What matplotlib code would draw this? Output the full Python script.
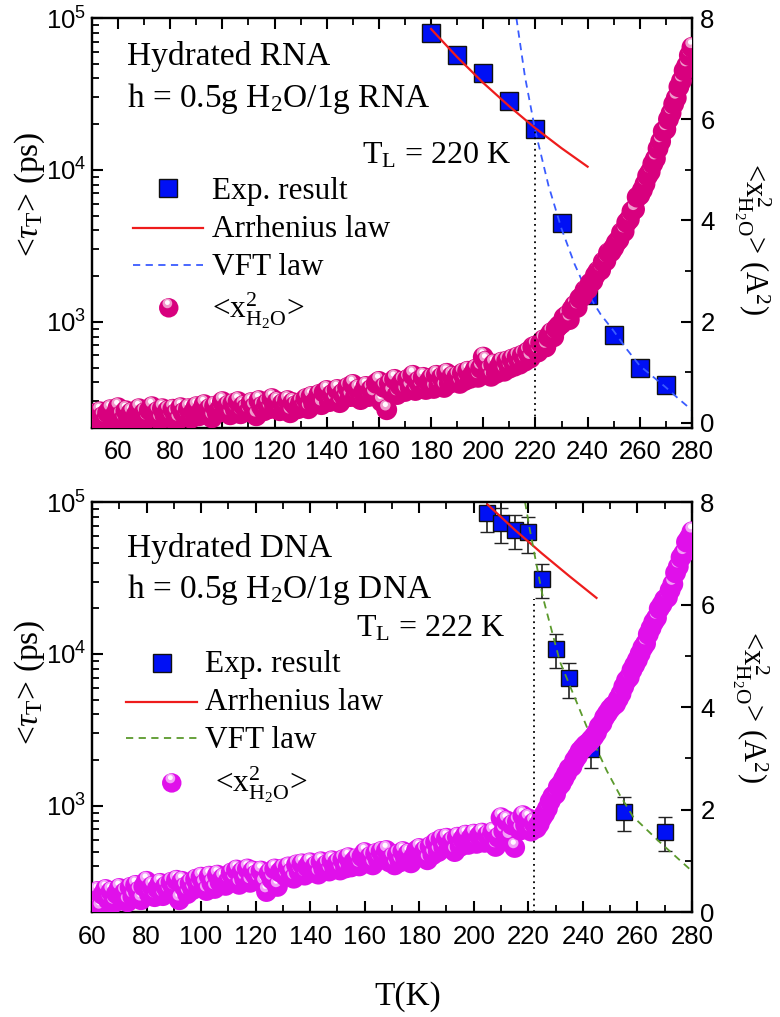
import numpy as np
import matplotlib
matplotlib.use("Agg")
import matplotlib.pyplot as plt
from matplotlib.ticker import MultipleLocator, LogLocator, FuncFormatter, NullFormatter
from matplotlib.colors import to_rgb

plt.rcParams['font.family'] = 'Liberation Serif'
plt.rcParams['mathtext.fontset'] = 'custom'
plt.rcParams['mathtext.rm'] = 'Liberation Serif'
plt.rcParams['mathtext.it'] = 'Liberation Serif:italic'
plt.rcParams['mathtext.sf'] = 'Liberation Sans'

# ---- hydrated RNA: relaxation times (left axis, ps) ----
rna_T = [180, 190, 200, 210, 220, 230, 240, 250, 260, 270]
rna_tau = [79800, 57300, 43700, 28300, 18500, 4440, 1500, 822, 500, 382]

rna_arr_T = [180, 190, 200, 210, 220, 230, 240]
rna_arr_tau = [84700, 55300, 37400, 26200, 18800, 13900, 10500]

rna_vft_T = [212.7, 216, 220, 225, 230, 235, 240, 245, 250, 255, 260, 265, 270, 275, 280]
rna_vft_tau = [100000, 41000, 17900, 7900, 4100, 2400, 1540, 1120, 870, 660, 514, 436, 370, 310, 262]

rna_TL = 220
rna_TL_top = 18000

# ---- hydrated RNA: water MSD (right axis, A^2), one point per K from 50 K ----
rna_T_x2 = np.arange(50, 281)
rna_x2 = [
    0.10, 0.18, 0.06, 0.22, 0.12, 0.04, 0.20, 0.26, 0.09, 0.17,
    0.30, 0.14, 0.06, 0.24, 0.10, 0.20, 0.03, 0.16, 0.28, 0.11,
    0.20, 0.08, 0.25, 0.32, 0.12, 0.22, 0.06, 0.28, 0.15, 0.24,
    0.10, 0.27, 0.18, 0.06, 0.30, 0.20, 0.13, 0.28, 0.09, 0.22,
    0.32, 0.14, 0.24, 0.36, 0.18, 0.28, 0.10, 0.33, 0.20, 0.27,
    0.42, 0.22, 0.34, 0.16, 0.38, 0.26, 0.42, 0.18, 0.34, 0.28,
    0.22, 0.40, 0.30, 0.14, 0.44, 0.32, 0.24, 0.38, 0.28, 0.48,
    0.32, 0.42, 0.24, 0.38, 0.30, 0.44, 0.20, 0.40, 0.34, 0.28,
    0.40, 0.32, 0.48, 0.28, 0.52, 0.38, 0.44, 0.56, 0.36, 0.60,
    0.64, 0.42, 0.56, 0.46, 0.66, 0.40, 0.58, 0.50, 0.70, 0.52,
    0.76, 0.52, 0.66, 0.46, 0.60, 0.72, 0.52, 0.66, 0.56, 0.78,
    0.82, 0.42, 0.70, 0.26, 0.78, 0.60, 0.86, 0.56, 0.74, 0.82,
    0.62, 0.86, 0.70, 0.94, 0.64, 0.82, 0.72, 0.90, 0.66, 0.80,
    0.88, 0.68, 0.94, 0.74, 0.90, 0.70, 0.98, 0.78, 0.92, 0.82,
    0.92, 0.78, 0.98, 0.84, 1.02, 0.88, 0.96, 1.06, 0.90, 1.08,
    1.30, 1.22, 1.04, 0.92, 1.16, 0.98, 1.10, 1.20, 1.02, 1.22,
    1.08, 1.26, 1.12, 1.30, 1.16, 1.34, 1.22, 1.40, 1.28, 1.50,
    1.52, 1.40, 1.58, 1.64, 1.50, 1.70, 1.78, 1.70, 1.86, 1.92,
    1.96, 2.08, 2.12, 2.04, 2.24, 2.32, 2.28, 2.46, 2.50, 2.62,
    2.64, 2.76, 2.80, 2.92, 3.00, 3.02, 3.18, 3.20, 3.36, 3.38,
    3.46, 3.56, 3.62, 3.76, 3.78, 3.96, 4.02, 4.18, 4.22, 4.46,
    4.50, 4.60, 4.72, 4.88, 4.96, 5.12, 5.22, 5.42, 5.56, 5.76,
    5.80, 6.00, 6.12, 6.30, 6.42, 6.64, 6.76, 6.96, 7.06, 7.26,
    7.42,
]

# ---- hydrated DNA: relaxation times with error bars ----
dna_T = [205, 210, 215, 220, 225, 230, 235, 243, 255, 270]
dna_tau = [84600, 72700, 65300, 63300, 31400, 10800, 6920, 2380, 912, 678]
dna_err = [21000, 19000, 16500, 17000, 8000, 2700, 1750, 600, 230, 170]

dna_arr_T = [205, 215, 225, 235, 245]
dna_arr_tau = [96600, 65800, 45900, 32600, 23400]

dna_vft_T = [218.8, 220.6, 223.2, 225.4, 231.6, 236.4, 242.6, 248.8, 253.6, 258.4, 268.3, 280]
dna_vft_tau = [100000, 65300, 37200, 23400, 8900, 5500, 2950, 1700, 1175, 850, 575, 372]

dna_TL = 222
dna_TL_top = 23000

# ---- hydrated DNA: water MSD, one point per K from 60 K ----
dna_T_x2 = np.arange(60, 281)
dna_x2 = [
    0.32, 0.14, 0.40, 0.08, 0.34, 0.44, 0.24, 0.40, 0.18, 0.36,
    0.46, 0.26, 0.38, 0.20, 0.48, 0.30, 0.52, 0.40, 0.24, 0.50,
    0.60, 0.36, 0.50, 0.30, 0.46, 0.56, 0.32, 0.50, 0.40, 0.58,
    0.46, 0.62, 0.24, 0.60, 0.48, 0.36, 0.56, 0.44, 0.64, 0.50,
    0.68, 0.54, 0.42, 0.70, 0.56, 0.46, 0.72, 0.58, 0.66, 0.52,
    0.60, 0.76, 0.64, 0.82, 0.54, 0.78, 0.64, 0.84, 0.58, 0.80,
    0.72, 0.62, 0.80, 0.56, 0.40, 0.76, 0.64, 0.84, 0.50, 0.78,
    0.84, 0.70, 0.88, 0.76, 0.66, 0.92, 0.78, 0.94, 0.72, 0.88,
    0.96, 0.78, 0.90, 0.74, 0.98, 0.84, 0.92, 0.80, 1.00, 0.86,
    0.96, 0.82, 1.02, 0.86, 1.06, 0.88, 0.98, 1.04, 0.90, 1.08,
    1.16, 0.96, 1.08, 0.92, 1.14, 1.02, 1.18, 1.06, 1.20, 0.98,
    1.06, 0.92, 1.12, 0.98, 1.18, 1.04, 1.14, 0.96, 1.08, 1.20,
    1.24, 1.08, 1.20, 1.02, 1.28, 1.12, 1.36, 1.18, 1.42, 1.26,
    1.44, 1.26, 1.38, 1.18, 1.46, 1.28, 1.42, 1.50, 1.32, 1.44,
    1.52, 1.34, 1.48, 1.54, 1.36, 1.50, 1.42, 1.56, 1.28, 1.46,
    1.84, 1.58, 1.78, 1.46, 1.70, 1.26, 1.76, 1.60, 1.88, 1.70,
    1.82, 1.58, 1.74, 1.64, 1.72, 1.84, 1.92, 2.02, 2.16, 2.26,
    2.30, 2.44, 2.50, 2.60, 2.70, 2.80, 2.84, 2.96, 3.04, 3.14,
    3.20, 3.26, 3.30, 3.36, 3.42, 3.50, 3.62, 3.68, 3.80, 3.88,
    3.96, 4.02, 4.06, 4.16, 4.26, 4.40, 4.52, 4.58, 4.72, 4.82,
    4.92, 5.04, 5.16, 5.24, 5.42, 5.54, 5.66, 5.74, 5.92, 6.00,
    6.10, 6.14, 6.28, 6.40, 6.62, 6.74, 6.92, 7.00, 7.22, 7.30,
    7.42,
]

SQ_BLUE = '#0010f5'
RED = '#ee1c1c'
VFT_BLUE = '#3a5cff'
VFT_GREEN = '#5b9a2c'
RNA_PINK = '#d8007e'
DNA_MAGENTA = '#e010ea'

TEXT_FS = 24
LEGEND_FS = 22.5
TICK_FS = 18.5
LABEL_FS = 24


def lighten(c, f):
    r, g, b = to_rgb(c)
    return (r + (1 - r) * f, g + (1 - g) * f, b + (1 - b) * f)


def draw_spheres(ax, xs, ys, color, diam=15.0, transform=None, zorder=3):
    # shaded balls: body, soft glow and a white glint, interleaved so that
    # every ball is painted completely before the next one covers it
    tr = ax.transData if transform is None else transform
    px = ax.figure.dpi / 72.0
    base = tr.transform(np.column_stack([xs, ys]))
    glow = base + np.array([-1.0, 3.2]) * px
    glint = base + np.array([-1.0, 3.8]) * px
    pts = np.stack([base, glow, glint], axis=1).reshape(-1, 2)
    pts = tr.inverted().transform(pts)
    n = len(xs)
    cols = [to_rgb(color), lighten(color, 0.6), (1.0, 0.98, 1.0)] * n
    sizes = [diam ** 2, (diam * 0.5) ** 2, (diam * 0.25) ** 2] * n
    ax.scatter(pts[:, 0], pts[:, 1], s=sizes, c=cols, linewidths=0,
               transform=tr, zorder=zorder)


def style_axes(ax, ax2, xlim, r_ylim):
    ax.set_yscale('log')
    ax.set_xlim(*xlim)
    ax.set_ylim(200, 1e5)
    ax2.set_ylim(*r_ylim)
    ax.xaxis.set_major_locator(MultipleLocator(20))
    ax.xaxis.set_minor_locator(MultipleLocator(10))
    ax.yaxis.set_major_locator(LogLocator(base=10, numticks=10))
    ax.yaxis.set_minor_locator(LogLocator(base=10, subs=np.arange(2, 10), numticks=10))
    ax.yaxis.set_major_formatter(FuncFormatter(lambda v, p: r'$\mathsf{10^{%d}}$' % round(np.log10(v))))
    ax.yaxis.set_minor_formatter(NullFormatter())
    ax2.yaxis.set_major_locator(MultipleLocator(2))
    ax2.yaxis.set_minor_locator(MultipleLocator(1))
    for a in (ax, ax2):
        for sp in a.spines.values():
            sp.set_linewidth(1.6)
    ax.tick_params(which='both', direction='in', top=True, right=False,
                   labelsize=TICK_FS, labelfontfamily='Liberation Sans')
    ax.tick_params(axis='x', pad=9)
    ax.tick_params(axis='y', pad=4)
    ax.tick_params(which='major', length=8, width=1.5)
    ax.tick_params(which='minor', length=5, width=1.3)
    ax2.tick_params(which='both', direction='in', labelsize=TICK_FS,
                    labelfontfamily='Liberation Sans', pad=6)
    ax2.tick_params(which='major', length=8, width=1.5)
    ax2.tick_params(which='minor', length=5, width=1.3)


def legend_rows(ax, sq, line_x, arr_y, vft_y, text_x, bases, sphere_text_x, vft_color):
    ax.plot([sq[0]], [sq[1]], 's', ms=12.5, mfc=SQ_BLUE, mec='#111111', mew=1.0,
            transform=ax.transAxes, clip_on=False)
    ax.plot(line_x, [arr_y, arr_y], color=RED, lw=1.6, transform=ax.transAxes)
    ax.plot(line_x, [vft_y, vft_y], color=vft_color, lw=1.3, dashes=(4, 3),
            transform=ax.transAxes)
    ax.text(text_x, bases[0], 'Exp. result', transform=ax.transAxes, fontsize=LEGEND_FS, va='baseline')
    ax.text(text_x, bases[1], 'Arrhenius law', transform=ax.transAxes, fontsize=LEGEND_FS, va='baseline')
    ax.text(text_x, bases[2], 'VFT law', transform=ax.transAxes, fontsize=LEGEND_FS, va='baseline')
    ax.text(sphere_text_x, bases[3], r'<x$^{2}_{\rm H_2O}$>', transform=ax.transAxes,
            fontsize=LEGEND_FS, va='baseline')


fig = plt.figure(figsize=(7.8, 10.17), dpi=100)
panel_left, panel_w, panel_h = 0.1179, 0.7692, 0.4031
ax_top = fig.add_axes([panel_left, 0.5792, panel_w, panel_h])
ax_bot = fig.add_axes([panel_left, 0.1032, panel_w, panel_h])
ax_top2 = ax_top.twinx()
ax_bot2 = ax_bot.twinx()

style_axes(ax_top, ax_top2, (50, 280), (-0.1, 8))
style_axes(ax_bot, ax_bot2, (60, 280), (0, 8))

# ---------------- RNA panel ----------------
ax_top.plot(rna_T, rna_tau, 's', ms=12.5, mfc=SQ_BLUE, mec='#111111', mew=1.0, zorder=3)
ax_top.plot(rna_arr_T, rna_arr_tau, color=RED, lw=1.6, zorder=4)
ax_top.plot(rna_vft_T, rna_vft_tau, color=VFT_BLUE, lw=1.3, dashes=(4, 3), zorder=4)
draw_spheres(ax_top2, rna_T_x2, rna_x2, RNA_PINK)
ax_top2.plot([rna_TL, rna_TL], [200, rna_TL_top], color='k', lw=1.3, dashes=(1, 2.2),
             transform=ax_top.transData, zorder=6)

ax_top.text(0.058, 0.885, 'Hydrated RNA', transform=ax_top.transAxes, fontsize=TEXT_FS, va='baseline')
ax_top.text(0.058, 0.783, r'h = 0.5g H$_2$O/1g RNA', transform=ax_top.transAxes, fontsize=TEXT_FS, va='baseline')
ax_top.text(0.45, 0.646, r'T$_{\rm L}$ = 220 K', transform=ax_top.transAxes, fontsize=23, va='baseline')

legend_rows(ax_top, (0.127, 0.585), [0.068, 0.185], 0.488, 0.398,
            0.2, (0.559, 0.466, 0.373, 0.268), 0.2, VFT_BLUE)
draw_spheres(ax_top, [0.128], [0.293], RNA_PINK, diam=14.0, transform=ax_top.transAxes)

ax_top.set_ylabel(r'<$\tau_{\rm T}$> (ps)', fontsize=LABEL_FS, va='center')
ax_top.yaxis.set_label_coords(-0.103, 0.57)
ax_top2.set_ylabel(r'<x$^{2}_{\rm H_2O}$> (A$^2$)', fontsize=22, rotation=270, va='center', ha='center')
ax_top2.yaxis.set_label_coords(1.10, 0.46)

# ---------------- DNA panel ----------------
ax_bot.errorbar(dna_T, dna_tau, yerr=dna_err, fmt='s', ms=11.5, mfc=SQ_BLUE, mec='#111111',
                mew=1.0, ecolor='#222222', elinewidth=1.2, capsize=5, capthick=1.2, zorder=3)
ax_bot.plot(dna_arr_T, dna_arr_tau, color=RED, lw=1.6, zorder=4)
ax_bot.plot(dna_vft_T, dna_vft_tau, color=VFT_GREEN, lw=1.3, dashes=(4, 3), zorder=4)
draw_spheres(ax_bot2, dna_T_x2, dna_x2, DNA_MAGENTA)
ax_bot2.plot([dna_TL, dna_TL], [200, dna_TL_top], color='k', lw=1.3, dashes=(1, 2.2),
             transform=ax_bot.transData, zorder=6)

ax_bot.text(0.058, 0.866, 'Hydrated DNA', transform=ax_bot.transAxes, fontsize=TEXT_FS, va='baseline')
ax_bot.text(0.058, 0.766, r'h = 0.5g H$_2$O/1g DNA', transform=ax_bot.transAxes, fontsize=TEXT_FS, va='baseline')
ax_bot.text(0.44, 0.671, r'T$_{\rm L}$ = 222 K', transform=ax_bot.transAxes, fontsize=23, va='baseline')

legend_rows(ax_bot, (0.117, 0.607), [0.057, 0.175], 0.512, 0.424,
            0.188, (0.585, 0.493, 0.40, 0.293), 0.205, VFT_GREEN)
draw_spheres(ax_bot, [0.133], [0.315], DNA_MAGENTA, diam=14.0, transform=ax_bot.transAxes)

ax_bot.set_ylabel(r'<$\tau_{\rm T}$> (ps)', fontsize=LABEL_FS, va='center')
ax_bot.yaxis.set_label_coords(-0.103, 0.56)
ax_bot2.set_ylabel(r'<x$^{2}_{\rm H_2O}$> (A$^2$)', fontsize=22, rotation=270, va='center', ha='center')
ax_bot2.yaxis.set_label_coords(1.097, 0.50)

fig.text(408 / 780, 1 - 997 / 1017, 'T(K)', ha='center', va='center', fontsize=24)

fig.savefig('out.png', dpi=100)
